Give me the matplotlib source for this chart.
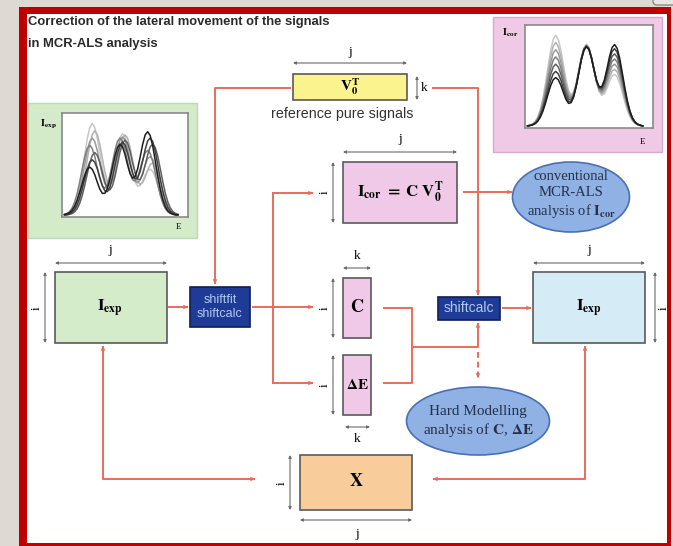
import numpy as np
import matplotlib.pyplot as plt
from matplotlib.patches import Rectangle, Ellipse, FancyBboxPatch

plt.rcParams['mathtext.fontset'] = 'stix'

# ---- texts ----
title_lines = ["Correction of the lateral movement of the signals",
               "in MCR-ALS analysis"]
ref_caption = "reference pure signals"
shiftfit_label = "shiftfit\nshiftcalc"
shiftcalc_label = "shiftcalc"
conv_label = "conventional\nMCR-ALS\nanalysis of $\\mathbf{I}_{\\mathbf{cor}}$"
hard_label = "Hard Modelling\nanalysis of $\\mathbf{C}$, $\\mathbf{\\Delta E}$"
lbl_iexp = r"$\mathbf{I}_{\mathbf{exp}}$"
lbl_icor = r"$\mathbf{I}_{\mathbf{cor}}$"
lbl_icor_eq = r"$\mathbf{I}_{\mathbf{cor}}\ \mathbf{=\ C\ V}_{\mathbf{0}}^{\mathbf{T}}$"
lbl_v0 = r"$\mathbf{V}_{\mathbf{0}}^{\mathbf{T}}$"
lbl_c = r"$\mathbf{C}$"
lbl_de = r"$\mathbf{\Delta E}$"
lbl_x = r"$\mathbf{X}$"

# ---- spectra in the two insets ----
# peak profile sampled at offsets -20..20 (step 2, same as the energy grid)
peak_profile = [0.009, 0.022, 0.048, 0.098, 0.182, 0.306, 0.469, 0.653, 0.828, 0.954,
                1.0, 0.954, 0.828, 0.653, 0.469, 0.306, 0.182, 0.098, 0.048, 0.022, 0.009]
e_grid = np.arange(2, 93, 2)
peak_centers = [24, 48, 70]

exp_peak1 = [0.88, 0.81, 0.74, 0.67, 0.60, 0.53, 0.46]
exp_peak2 = [0.78, 0.77, 0.75, 0.74, 0.72, 0.70, 0.68]
exp_peak3 = [0.44, 0.50, 0.56, 0.62, 0.68, 0.74, 0.80]
exp_shift = [0, 2, 0, -2, 2, 0, -2]

cor_peak1 = [0.88, 0.81, 0.74, 0.67, 0.60, 0.53, 0.47]
cor_peak2 = [0.79, 0.79, 0.78, 0.78, 0.78, 0.77, 0.77]
cor_peak3 = [0.50, 0.55, 0.60, 0.65, 0.70, 0.75, 0.79]

curve_colors = ['#c8c8c8', '#b2b2b2', '#9a9a9a', '#808080', '#606060', '#404040', '#1e1e1e']

RED = '#e96b5c'
FRAME = '#c00000'
DIM = '#6a6a6a'
NAVY = '#1e3c96'

W, H = 673, 546
fig = plt.figure(figsize=(W / 100, H / 100), dpi=100, facecolor='#dedad3')
ax = fig.add_axes([0, 0, 1, 1])
ax.set_xlim(0, W)
ax.set_ylim(H, 0)
ax.axis('off')


def rect(x0, y0, x1, y1, fc, ec='#5a5a5a', lw=1.2, z=3):
    ax.add_patch(Rectangle((x0, y0), x1 - x0, y1 - y0, fc=fc, ec=ec, lw=lw, zorder=z))


def dim(x0, y0, x1, y1):
    ax.annotate('', xy=(x1, y1), xytext=(x0, y0),
                arrowprops=dict(arrowstyle='<|-|>', color=DIM, lw=0.8,
                                mutation_scale=4, shrinkA=0, shrinkB=0), zorder=4)


def head(p_from, p_to):
    ax.annotate('', xy=p_to, xytext=p_from,
                arrowprops=dict(arrowstyle='-|>', color=RED, lw=0.1,
                                mutation_scale=8, shrinkA=0, shrinkB=0), zorder=5)


def red_line(pts, end=True, start=False, ls='-'):
    xs, ys = zip(*pts)
    ax.plot(xs, ys, color=RED, lw=1.4, ls=ls, zorder=4, solid_capstyle='butt')
    if end:
        (xa, ya), (xb, yb) = pts[-2], pts[-1]
        d = np.hypot(xb - xa, yb - ya)
        head((xb - (xb - xa) * 5 / d, yb - (yb - ya) * 5 / d), (xb, yb))
    if start:
        (xa, ya), (xb, yb) = pts[1], pts[0]
        d = np.hypot(xb - xa, yb - ya)
        head((xb - (xb - xa) * 5 / d, yb - (yb - ya) * 5 / d), (xb, yb))


def serif(x, y, s, size=8, **kw):
    ax.text(x, y, s, ha='center', va='center', fontsize=size,
            family='Liberation Serif', zorder=6, **kw)


# ---- background / frame ----
ax.add_patch(Rectangle((27, 14), 640, 529, fc='white', ec='none', zorder=0))

# ---- title ----
for k, yy in enumerate([22, 44]):
    ax.text(28, yy, title_lines[k], fontsize=9.4, fontweight='bold', family='Liberation Sans',
            color='#2a2a2a', va='center', ha='left', zorder=6)

# ---- inset panels ----
rect(28, 103, 197, 238, fc='#d4ebc9', ec='#bcd9b0', lw=1, z=1)
rect(493, 17, 662, 152, fc='#efc9e6', ec='#d8aacd', lw=1, z=1)
serif(48, 124, lbl_iexp, size=7.5)
serif(179, 227, 'E', size=6.5)
serif(510, 33, lbl_icor, size=7.5)
serif(642, 142, 'E', size=6.5)


def inset(x0, y0, x1, y1, p1, p2, p3, shifts):
    a = fig.add_axes([x0 / W, 1 - y1 / H, (x1 - x0) / W, (y1 - y0) / H])
    a.set_xlim(0, 100)
    a.set_ylim(0, 1)
    a.set_xticks([])
    a.set_yticks([])
    for sp in a.spines.values():
        sp.set_color('#8a8a8a')
        sp.set_linewidth(1.2)
    prof = np.array(peak_profile)
    for n in range(len(p1)):
        y = np.full(len(e_grid), 0.02)
        for c, h in zip(peak_centers, (p1[n], p2[n], p3[n])):
            idx = (e_grid - c - shifts[n]) // 2 + 10
            ok = (idx >= 0) & (idx < len(prof))
            y[ok] += h * prof[idx[ok]]
        a.plot(e_grid, y, color=curve_colors[n], lw=1.1)
    return a


BOX = 12   # font size of matrix names
DL = 9.5   # font size of dimension letters

# ---- boxes ----
rect(293, 74, 407, 100, fc='#fbf38e')
serif(350, 87, lbl_v0, size=BOX - 1)
dim(293, 63, 407, 63)
serif(350, 52, 'j', size=DL)
dim(417, 76, 417, 100)
serif(424, 88, 'k', size=DL)
ax.text(342, 114, ref_caption, fontsize=10.3, family='Liberation Sans', ha='center',
        va='center', color='#333333', zorder=6)

rect(343, 162, 457, 223, fc='#f0c8e8')
serif(400, 192, lbl_icor_eq, size=BOX)
dim(343, 152, 457, 152)
serif(400, 139, 'j', size=DL)
dim(333, 162, 333, 223)
serif(325, 192, 'i', size=DL, rotation=90)

rect(55, 272, 167, 343, fc='#d5eccb')
serif(110, 308, lbl_iexp, size=BOX)
dim(55, 263, 167, 263)
serif(110, 250, 'j', size=DL)
dim(45, 272, 45, 343)
serif(37, 308, 'i', size=DL, rotation=90)

rect(190, 287, 250, 327, fc=NAVY, ec='#0f1f55', lw=1.2)
ax.text(220, 307, shiftfit_label, fontsize=9, family='Liberation Sans', ha='center',
        va='center', color='#b3c8ef', linespacing=1.3, zorder=6)

rect(343, 278, 371, 338, fc='#f0c8e8')
serif(357, 308, lbl_c, size=BOX + 1)
dim(343, 268, 371, 268)
serif(357, 256, 'k', size=DL)
dim(333, 278, 333, 338)
serif(325, 308, 'i', size=DL, rotation=90)

rect(343, 355, 371, 415, fc='#f0c8e8')
serif(357, 385, lbl_de, size=BOX - 1)
dim(333, 355, 333, 415)
serif(325, 385, 'i', size=DL, rotation=90)
dim(345, 427, 370, 427)
serif(357, 439, 'k', size=DL)

rect(438, 297, 500, 320, fc=NAVY, ec='#0f1f55', lw=1.2)
ax.text(469, 308.5, shiftcalc_label, fontsize=10, family='Liberation Sans', ha='center',
        va='center', color='#b3c8ef', zorder=6)

rect(533, 272, 645, 343, fc='#d5ecf7')
serif(589, 308, lbl_iexp, size=BOX)
dim(533, 263, 645, 263)
serif(589, 250, 'j', size=DL)
dim(655, 272, 655, 343)
serif(664, 308, 'i', size=DL, rotation=90)

rect(300, 455, 412, 510, fc='#f9cd9b')
serif(356, 482, lbl_x, size=BOX + 1)
dim(290, 455, 290, 510)
serif(282, 483, 'i', size=DL, rotation=90)
dim(300, 520, 412, 520)
serif(357, 534, 'j', size=DL)

# ---- ellipses ----
ax.add_patch(Ellipse((571, 197), 117, 70, fc='#8fb1e3', ec='#4a6fb5', lw=1.2, zorder=3))
serif(571, 195, conv_label, size=10.5, color='#26304a', linespacing=1.22)
ax.add_patch(Ellipse((478, 421), 143, 68, fc='#8fb1e3', ec='#4a6fb5', lw=1.2, zorder=3))
serif(478, 422, hard_label, size=11, color='#26304a', linespacing=1.25)

# ---- red connectors ----
red_line([(291, 88), (215, 88), (215, 284)])
red_line([(432, 88), (478, 88), (478, 295)])
red_line([(168, 307), (188, 307)])
red_line([(252, 307), (313, 307)])
ax.plot([273, 273], [193, 383], color=RED, lw=1.4, zorder=4)
red_line([(273, 193), (313, 193)])
red_line([(273, 383), (313, 383)])
red_line([(463, 192), (512, 192)])
red_line([(383, 308), (412, 308), (412, 383), (383, 383)], end=False)
red_line([(412, 347), (478, 347), (478, 323)])
red_line([(478, 352), (478, 378)], ls=(0, (3, 2)))
red_line([(502, 308), (531, 308)])
red_line([(255, 479), (103, 479), (103, 346)], start=True)
red_line([(433, 479), (585, 479), (585, 346)], start=True)

# ---- frame on top ----
for x, y, w, h in [(19, 7, 652, 7), (19, 7, 8, 539), (667, 7, 4, 539), (19, 543, 652, 3)]:
    ax.add_patch(Rectangle((x, y), w, h, fc=FRAME, ec='none', zorder=20))
ax.add_patch(FancyBboxPatch((653, -8), 30, 13, boxstyle='round,pad=0,rounding_size=4',
                            fc='#e8e6e0', ec='#8a8a8a', lw=1, zorder=21))

inset(62, 113, 188, 217, exp_peak1, exp_peak2, exp_peak3, exp_shift)
inset(525, 25, 653, 128, cor_peak1, cor_peak2, cor_peak3, [0] * 7)

fig.savefig('out.png', dpi=100, facecolor=fig.get_facecolor())
